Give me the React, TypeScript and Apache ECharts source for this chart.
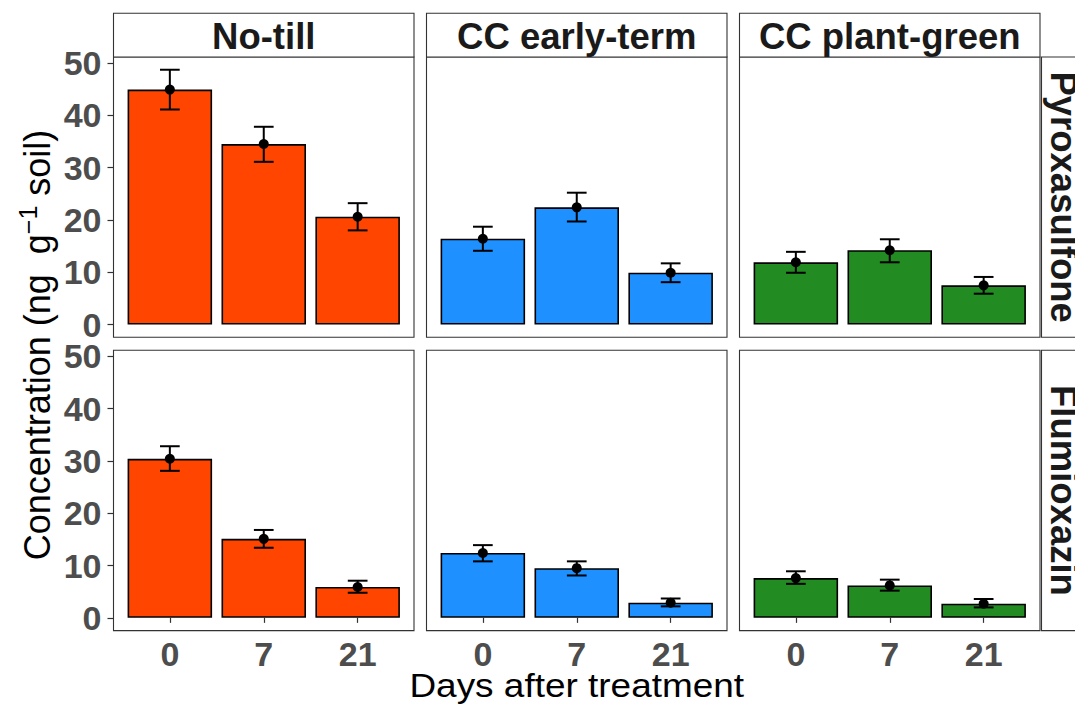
import React, { useEffect, useRef } from 'react';
import * as echarts from 'echarts';

const days = ['0', '7', '21'];
const managements = ['No-till', 'CC early-term', 'CC plant-green'];
const herbicides = ['Pyroxasulfone', 'Flumioxazin'];
const fillColors = ['#FF4500', '#1E90FF', '#228B22'];
const yTicks = [0, 10, 20, 30, 40, 50];

// Pyroxasulfone
const pyroNoTillMean = [44.9, 34.5, 20.6];
const pyroNoTillLow = [41.1, 31.1, 18.0];
const pyroNoTillHigh = [48.7, 37.8, 23.2];
const pyroEarlyMean = [16.4, 22.4, 9.9];
const pyroEarlyLow = [14.1, 19.7, 8.1];
const pyroEarlyHigh = [18.7, 25.2, 11.7];
const pyroGreenMean = [11.9, 14.2, 7.5];
const pyroGreenLow = [9.9, 11.9, 5.9];
const pyroGreenHigh = [13.9, 16.3, 9.1];
// Flumioxazin
const flumNoTillMean = [30.4, 15.1, 5.9];
const flumNoTillLow = [28.1, 13.4, 4.8];
const flumNoTillHigh = [32.8, 16.8, 7.1];
const flumEarlyMean = [12.4, 9.5, 2.9];
const flumEarlyLow = [10.8, 8.1, 2.2];
const flumEarlyHigh = [13.9, 10.8, 3.7];
const flumGreenMean = [7.6, 6.2, 2.7];
const flumGreenLow = [6.5, 5.2, 2.0];
const flumGreenHigh = [8.9, 7.3, 3.6];

const panelData = [
  [
    [pyroNoTillMean, pyroNoTillLow, pyroNoTillHigh],
    [pyroEarlyMean, pyroEarlyLow, pyroEarlyHigh],
    [pyroGreenMean, pyroGreenLow, pyroGreenHigh],
  ],
  [
    [flumNoTillMean, flumNoTillLow, flumNoTillHigh],
    [flumEarlyMean, flumEarlyLow, flumEarlyHigh],
    [flumGreenMean, flumGreenLow, flumGreenHigh],
  ],
];

const yMin = -2.435;
const yMax = 51.135;

const FONT = '"Liberation Sans", Arial, sans-serif';
const panelLefts = [113.5, 426.5, 739.5];
const panelWidth = 300.5;
const panelTops = [57, 350.3];
const panelHeight = 280.3;
const inset = (panelWidth * 0.1) / 3.2;
const stripTop = 13.3;
const stripRightX = 1041.5;

function buildOption() {
  const grid: any[] = [];
  const xAxis: any[] = [];
  const yAxis: any[] = [];
  const series: any[] = [];
  const graphic: any[] = [];
  let idx = 0;
  for (let r = 0; r < 2; r++) {
    for (let c = 0; c < 3; c++) {
      const L = panelLefts[c];
      const T = panelTops[r];
      grid.push({
        left: L + inset,
        top: T,
        width: panelWidth - 2 * inset,
        height: panelHeight,
        containLabel: false,
      });
      xAxis.push({
        type: 'category',
        gridIndex: idx,
        data: days,
        axisLine: { show: false },
        axisTick: {
          show: r === 1,
          alignWithLabel: true,
          length: 5,
          lineStyle: { color: '#333333', width: 1.2 },
        },
        axisLabel: {
          show: r === 1,
          fontSize: 34,
          fontWeight: 'bold',
          color: '#4d4d4d',
          fontFamily: FONT,
          margin: 6,
        },
        splitLine: { show: false },
      });
      yAxis.push({
        type: 'value',
        gridIndex: idx,
        min: yMin,
        max: yMax,
        show: c === 0,
        offset: inset,
        axisLine: { show: false },
        axisTick: {
          show: true,
          length: 6,
          customValues: yTicks,
          lineStyle: { color: '#333333', width: 1.2 },
        },
        axisLabel: {
          customValues: yTicks,
          fontSize: 34,
          fontWeight: 'bold',
          color: '#4d4d4d',
          fontFamily: FONT,
          margin: 12,
        },
        splitLine: { show: false },
      });
      const [mean, low, high] = panelData[r][c];
      series.push({
        type: 'bar',
        xAxisIndex: idx,
        yAxisIndex: idx,
        data: mean,
        barWidth: '90%',
        itemStyle: { color: fillColors[c], borderColor: '#000', borderWidth: 1.6 },
        z: 2,
      });
      series.push({
        type: 'custom',
        xAxisIndex: idx,
        yAxisIndex: idx,
        data: days.map((_, i) => [i, low[i], high[i]]),
        encode: { x: 0, y: [1, 2] },
        z: 3,
        renderItem: (params: any, api: any) => {
          const x = api.value(0);
          const lo = api.coord([x, api.value(1)]);
          const hi = api.coord([x, api.value(2)]);
          const half = api.size([1, 0])[0] * 0.105;
          const st = { stroke: '#000', lineWidth: 2 };
          return {
            type: 'group',
            children: [
              { type: 'line', shape: { x1: lo[0], y1: lo[1], x2: hi[0], y2: hi[1] }, style: st },
              { type: 'line', shape: { x1: hi[0] - half, y1: hi[1], x2: hi[0] + half, y2: hi[1] }, style: st },
              { type: 'line', shape: { x1: lo[0] - half, y1: lo[1], x2: lo[0] + half, y2: lo[1] }, style: st },
            ],
          };
        },
      });
      series.push({
        type: 'scatter',
        xAxisIndex: idx,
        yAxisIndex: idx,
        data: mean,
        symbol: 'circle',
        symbolSize: 10,
        itemStyle: { color: '#000', opacity: 1 },
        z: 4,
      });
      graphic.push({
        type: 'rect',
        shape: { x: L, y: T, width: panelWidth, height: panelHeight },
        style: { fill: 'none', stroke: '#333333', lineWidth: 1.1 },
        z: 10,
        silent: true,
      });
      idx++;
    }
  }
  // top strips
  for (let c = 0; c < 3; c++) {
    const L = panelLefts[c];
    graphic.push({
      type: 'rect',
      shape: { x: L, y: stripTop, width: panelWidth, height: panelTops[0] - stripTop },
      style: { fill: '#ffffff', stroke: '#333333', lineWidth: 1.1 },
      z: 10,
    });
    graphic.push({
      type: 'text',
      x: L + panelWidth / 2,
      y: (stripTop + panelTops[0]) / 2 + 1,
      style: {
        text: managements[c],
        fontSize: 36.5,
        fontWeight: 'bold',
        fontFamily: FONT,
        fill: '#1a1a1a',
        align: 'center',
        verticalAlign: 'middle',
      },
      z: 11,
    });
  }
  // right strips
  for (let r = 0; r < 2; r++) {
    const T = panelTops[r];
    graphic.push({
      type: 'rect',
      shape: { x: stripRightX, y: T, width: 50, height: panelHeight },
      style: { fill: '#ffffff', stroke: '#333333', lineWidth: 1.1 },
      z: 10,
    });
    graphic.push({
      type: 'text',
      x: 1063,
      y: T + panelHeight / 2,
      rotation: -Math.PI / 2,
      style: {
        text: herbicides[r],
        fontSize: 36.5,
        fontWeight: 'bold',
        fontFamily: FONT,
        fill: '#1a1a1a',
        align: 'center',
        verticalAlign: 'middle',
      },
      z: 11,
    });
  }
  // axis titles
  graphic.push({
    type: 'text',
    x: (panelLefts[0] + panelLefts[2] + panelWidth) / 2,
    y: 685,
    scaleX: 1.12,
    style: {
      text: 'Days after treatment',
      fontSize: 33,
      fontFamily: FONT,
      fill: '#000',
      align: 'center',
      verticalAlign: 'middle',
    },
    z: 11,
  });
  graphic.push({
    type: 'text',
    x: 37,
    y: 345,
    rotation: Math.PI / 2,
    style: {
      text: '{a|Concentration (ng  g}{b|−1}{a| soil)}',
      align: 'center',
      verticalAlign: 'middle',
      rich: {
        a: { fontSize: 36, fontFamily: FONT, fill: '#000', lineHeight: 44, verticalAlign: 'middle' },
        b: { fontSize: 25, fontFamily: FONT, fill: '#000', lineHeight: 28, verticalAlign: 'top' },
      },
    },
    z: 11,
  });

  return {
    animation: false,
    backgroundColor: '#ffffff',
    grid,
    xAxis,
    yAxis,
    series,
    graphic,
  };
}

export default function App() {
  const ref = useRef<HTMLDivElement>(null);
  useEffect(() => {
    if (!ref.current) return;
    const chart = echarts.init(ref.current, null, { renderer: 'svg' });
    chart.setOption(buildOption());
    return () => chart.dispose();
  }, []);
  return (
    <div
      ref={ref}
      style={{ position: 'fixed', left: 0, top: 0, width: 1075, height: 705, background: '#fff' }}
    />
  );
}
